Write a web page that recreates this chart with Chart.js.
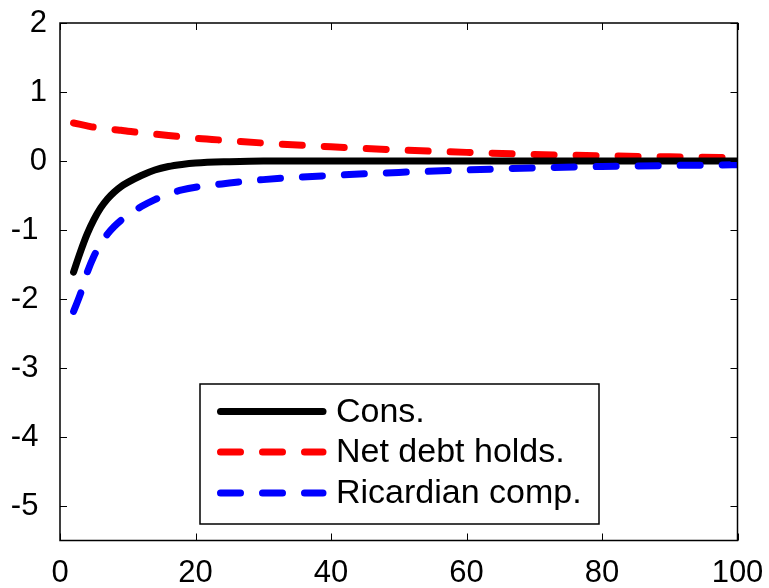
<!DOCTYPE html>
<html>
<head>
<meta charset="utf-8">
<script src="https://cdn.jsdelivr.net/npm/chart.js@4.4.0/dist/chart.umd.min.js"></script>
<style>
  body { margin: 0; background: #fff; }
  canvas { display: block; }
</style>
</head>
<body>
<canvas id="myChart" width="769" height="588"></canvas>
<script>
const periods = [2, 3, 4, 5, 6, 7, 8, 9, 10, 12, 14, 16, 18, 20, 25, 30, 40, 50, 60, 70, 80, 90, 100];

const cons = [-1.61, -1.32, -1.06, -0.85, -0.68, -0.55, -0.45, -0.37, -0.31, -0.21, -0.13, -0.08, -0.05, -0.03, -0.01, 0, 0, 0, 0, 0, 0, 0, 0];
const netDebt = [0.55, 0.53, 0.51, 0.49, 0.48, 0.47, 0.455, 0.445, 0.43, 0.41, 0.39, 0.37, 0.35, 0.33, 0.295, 0.26, 0.205, 0.16, 0.125, 0.095, 0.075, 0.06, 0.05];
const ricardian = [-2.18, -1.93, -1.62, -1.38, -1.2, -1.06, -0.95, -0.86, -0.79, -0.66, -0.56, -0.48, -0.42, -0.38, -0.32, -0.27, -0.21, -0.165, -0.13, -0.1, -0.08, -0.065, -0.055];

const seriesLabels = ["Cons.", "Net debt holds.", "Ricardian comp."];
const xTicks = [0, 20, 40, 60, 80, 100];
const yTicks = [-5, -4, -3, -2, -1, 0, 1, 2];

const FONT = "'Liberation Sans', Arial, sans-serif";

function toPoints(values) {
  return periods.map((p, i) => ({ x: p, y: values[i] }));
}

function noPadding(axis) {
  axis.paddingLeft = 0;
  axis.paddingRight = 0;
  axis.paddingTop = 0;
  axis.paddingBottom = 0;
}

// box around the plot + inward tick marks on all four sides
const framePlugin = {
  id: "frame",
  afterDatasetsDraw(chart) {
    const { ctx, chartArea: a, scales } = chart;
    ctx.save();
    ctx.strokeStyle = "#000";
    ctx.lineWidth = 1.5;
    ctx.setLineDash([]);
    ctx.strokeRect(a.left, a.top, a.right - a.left, a.bottom - a.top);
    ctx.lineWidth = 1;
    const len = 7;
    ctx.beginPath();
    xTicks.forEach((v) => {
      const px = Math.round(scales.x.getPixelForValue(v)) + 0.5;
      ctx.moveTo(px, a.bottom); ctx.lineTo(px, a.bottom - len);
      ctx.moveTo(px, a.top); ctx.lineTo(px, a.top + len);
    });
    yTicks.forEach((v) => {
      const py = Math.round(scales.y.getPixelForValue(v)) + 0.5;
      ctx.moveTo(a.left, py); ctx.lineTo(a.left + len, py);
      ctx.moveTo(a.right, py); ctx.lineTo(a.right - len, py);
    });
    ctx.stroke();
    ctx.restore();
  }
};

// boxed legend inside the plot, lower middle
const legendPlugin = {
  id: "boxLegend",
  afterDraw(chart) {
    const ctx = chart.ctx;
    const box = { left: 200, top: 384, right: 599, bottom: 524 };
    const rows = [411.5, 452, 493];
    ctx.save();
    ctx.fillStyle = "#fff";
    ctx.fillRect(box.left, box.top, box.right - box.left, box.bottom - box.top);
    ctx.strokeStyle = "#000";
    ctx.lineWidth = 1.5;
    ctx.strokeRect(box.left, box.top, box.right - box.left, box.bottom - box.top);
    chart.data.datasets.forEach((ds, i) => {
      const y = rows[i];
      ctx.beginPath();
      ctx.setLineDash(ds.borderDash || []);
      ctx.lineCap = "round";
      ctx.lineWidth = ds.borderWidth;
      ctx.strokeStyle = ds.borderColor;
      ctx.moveTo(220.5, y);
      ctx.lineTo(323, y);
      ctx.stroke();
      ctx.setLineDash([]);
      ctx.fillStyle = "#000";
      ctx.font = "34px " + FONT;
      ctx.textBaseline = "middle";
      ctx.textAlign = "left";
      ctx.fillText(ds.label, 336, y + 1);
    });
    ctx.restore();
  }
};

const chart = new Chart(document.getElementById("myChart"), {
  type: "line",
  data: {
    datasets: [
      {
        label: seriesLabels[0],
        data: toPoints(cons),
        borderColor: "#000000",
        borderWidth: 7,
        order: 1
      },
      {
        label: seriesLabels[1],
        data: toPoints(netDebt),
        borderColor: "#FF0000",
        borderWidth: 7,
        borderDash: [20, 22],
        order: 2
      },
      {
        label: seriesLabels[2],
        data: toPoints(ricardian),
        borderColor: "#0000FF",
        borderWidth: 7,
        borderDash: [20, 22],
        order: 0
      }
    ]
  },
  options: {
    responsive: false,
    animation: false,
    layout: { padding: { top: 23, right: 31.5, left: 0, bottom: 0 } },
    elements: {
      point: { radius: 0 },
      line: {
        cubicInterpolationMode: "monotone",
        borderCapStyle: "round",
        borderJoinStyle: "round",
        fill: false
      }
    },
    scales: {
      x: {
        type: "linear",
        min: 0,
        max: 100,
        afterBuildTicks: (axis) => { axis.ticks = xTicks.map((v) => ({ value: v })); },
        afterFit: (axis) => { axis.height = 47.5; noPadding(axis); },
        grid: { display: false, drawTicks: false },
        border: { display: false },
        ticks: {
          padding: 14,
          color: "#000",
          maxRotation: 0,
          font: { family: FONT, size: 31 }
        }
      },
      y: {
        type: "linear",
        min: -5.5,
        max: 2,
        afterBuildTicks: (axis) => { axis.ticks = yTicks.map((v) => ({ value: v })); },
        afterFit: (axis) => { axis.width = 60; noPadding(axis); },
        grid: { display: false, drawTicks: false },
        border: { display: false },
        ticks: {
          padding: 13,
          color: "#000",
          font: { family: FONT, size: 31 },
          callback: (v) => (v < 0 ? "-" + Math.abs(v) + " " : String(v))
        }
      }
    },
    plugins: {
      legend: { display: false },
      tooltip: { enabled: false }
    }
  },
  plugins: [framePlugin, legendPlugin]
});
</script>
</body>
</html>
